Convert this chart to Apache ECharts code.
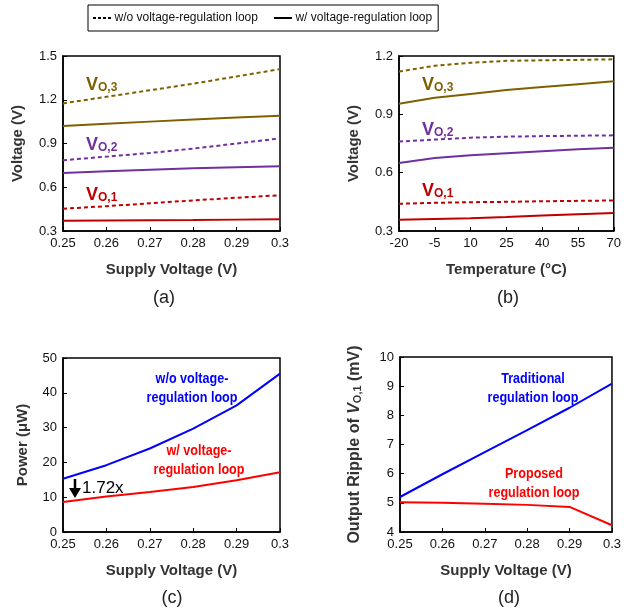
<!DOCTYPE html>
<html>
<head>
<meta charset="utf-8">
<script src="https://cdn.jsdelivr.net/npm/echarts@6/dist/echarts.min.js"></script>
<style>
  html, body { margin: 0; padding: 0; background: #fff; }
  #chart { width: 624px; height: 616px; }
</style>
</head>
<body>
<div id="chart"></div>
<script>
// x values
let supplyV = [0.25, 0.26, 0.27, 0.28, 0.29, 0.30];
let tempC = ['-20', '-5', '10', '25', '40', '55', '70'];

// (a) output voltages vs supply voltage
let aVo3Open = [1.175, 1.22, 1.265, 1.31, 1.36, 1.41];
let aVo3Reg = [1.02, 1.035, 1.05, 1.065, 1.078, 1.09];
let aVo2Open = [0.785, 0.81, 0.835, 0.865, 0.90, 0.935];
let aVo2Reg = [0.698, 0.71, 0.72, 0.73, 0.737, 0.744];
let aVo1Open = [0.453, 0.47, 0.49, 0.51, 0.528, 0.545];
let aVo1Reg = [0.37, 0.372, 0.373, 0.375, 0.378, 0.38];

// (b) output voltages vs temperature
let bVo3Open = [1.12, 1.15, 1.165, 1.175, 1.178, 1.18, 1.183];
let bVo3Reg = [0.955, 0.985, 1.005, 1.025, 1.04, 1.055, 1.07];
let bVo2Open = [0.76, 0.77, 0.78, 0.785, 0.788, 0.79, 0.792];
let bVo2Reg = [0.65, 0.675, 0.69, 0.70, 0.71, 0.72, 0.728];
let bVo1Open = [0.44, 0.445, 0.448, 0.45, 0.453, 0.455, 0.457];
let bVo1Reg = [0.358, 0.362, 0.366, 0.372, 0.38, 0.386, 0.392];

// (c) power
let cPowerOpen = [15.3, 19.2, 24.0, 29.7, 36.4, 45.5];
let cPowerReg = [8.6, 10.2, 11.5, 12.9, 14.9, 17.2];

// (d) ripple of VO,1
let dRippleTrad = [5.2, 5.98, 6.74, 7.49, 8.26, 9.09];
let dRippleProp = [5.02, 5.0, 4.97, 4.93, 4.86, 4.23];

let FONT = '"Liberation Sans", Arial, sans-serif';
let C3 = '#7F6000', C2 = '#7030A0', C1 = '#C00000';
let BLUE = '#0000FF', RED = '#FF0000';
let DASH = [4, 3];

function pairs(xs, ys) {
    return xs.map((x, i) => [x, ys[i]]);
}

let nameStyle = { fontFamily: FONT, fontWeight: 'bold', fontSize: 15, color: '#333' };
let tickStyle = { fontFamily: FONT, fontSize: 13, color: '#111', margin: 6 };

function xValueAxis(idx) {
    return {
        type: 'value', gridIndex: idx, min: 0.25, max: 0.30, interval: 0.01,
        name: 'Supply Voltage (V)', nameLocation: 'middle', nameGap: 31,
        nameTextStyle: nameStyle,
        axisLine: { lineStyle: { color: '#000', width: 1.5 } },
        axisTick: { inside: true, length: 4, lineStyle: { color: '#000' } },
        axisLabel: tickStyle,
        splitLine: { show: false }
    };
}

function yAxis(idx, min, max, interval, name, fmt, gap, size) {
    return {
        type: 'value', gridIndex: idx, min: min, max: max, interval: interval,
        name: name, nameLocation: 'middle', nameGap: gap,
        nameTextStyle: Object.assign({}, nameStyle, {
            fontSize: size,
            rich: {
                i: { fontFamily: FONT, fontWeight: 'bold', fontStyle: 'italic', fontSize: size, color: '#333' },
                s: { fontFamily: FONT, fontWeight: 'bold', fontSize: 11, color: '#333', padding: [6, 0, 0, 0] }
            }
        }),
        axisLine: { show: true, lineStyle: { color: '#000', width: 1.5 } },
        axisTick: { show: true, inside: true, length: 4, lineStyle: { color: '#000' } },
        axisLabel: Object.assign({ formatter: fmt }, tickStyle),
        splitLine: { show: false }
    };
}

function line(name, xi, data, color, dashed) {
    return {
        type: 'line', name: name, xAxisIndex: xi, yAxisIndex: xi,
        data: data, symbol: 'none', silent: true,
        lineStyle: { color: color, width: 2, type: dashed ? DASH : 'solid' },
        itemStyle: { color: color }
    };
}

function voLabel(x, y, sub, color) {
    return {
        type: 'text', left: x, top: y,
        style: {
            text: '{v|V}{s|O,' + sub + '}',
            rich: {
                v: { fontFamily: FONT, fontWeight: 'bold', fontSize: 18, fill: color, verticalAlign: 'bottom', lineHeight: 20 },
                s: { fontFamily: FONT, fontWeight: 'bold', fontSize: 12, fill: color, verticalAlign: 'bottom', lineHeight: 12 }
            }
        }
    };
}

// bold annotation, squeezed a bit to match the narrow face of the original
function note(x, y, txt, color) {
    return {
        type: 'text', x: x, y: y, scaleX: 0.84,
        style: {
            text: txt, fill: color, font: 'bold 15px ' + FONT,
            align: 'center', verticalAlign: 'middle', lineHeight: 19
        }
    };
}

function caption(x, y, txt) {
    return {
        type: 'text', x: x, y: y,
        style: { text: txt, fill: '#222', font: '18px ' + FONT, align: 'center', verticalAlign: 'middle' }
    };
}

let grids = [
    { left: 63, top: 56, width: 217, height: 175 },
    { left: 399, top: 56, width: 217, height: 175 },
    { left: 63, top: 358, width: 217, height: 174 },
    { left: 400, top: 357, width: 216, height: 175 }
].map(g => Object.assign(g, { show: true, borderColor: '#000', borderWidth: 1.5, containLabel: false }));

let fmt1 = v => v.toFixed(1);

let option = {
    animation: false,
    backgroundColor: '#fff',
    legend: {
        left: 88, top: 5,
        data: [
            { name: 'w/o voltage-regulation loop', icon: 'path://M0,0h3v2h-3zM5,0h3v2h-3zM10,0h3v2h-3zM15,0h3v2h-3z' },
            { name: 'w/ voltage-regulation loop', icon: 'path://M0,0h18v2h-18z' }
        ],
        borderColor: '#000', borderWidth: 1, padding: [7, 6, 7, 5],
        itemGap: 16, itemWidth: 19, itemHeight: 2,
        textStyle: { fontFamily: FONT, fontSize: 12, color: '#111', padding: [0, 0, 0, -2] }
    },
    grid: grids,
    xAxis: [
        xValueAxis(0),
        {
            type: 'category', gridIndex: 1, data: tempC, boundaryGap: false,
            name: 'Temperature (°C)', nameLocation: 'middle', nameGap: 31,
            nameTextStyle: nameStyle,
            axisLine: { lineStyle: { color: '#000', width: 1.5 } },
            axisTick: { inside: true, length: 4, lineStyle: { color: '#000' } },
            axisLabel: tickStyle,
            splitLine: { show: false }
        },
        xValueAxis(2),
        xValueAxis(3)
    ],
    yAxis: [
        yAxis(0, 0.3, 1.5, 0.3, 'Voltage (V)', fmt1, 38, 15),
        yAxis(1, 0.3, 1.2, 0.3, 'Voltage (V)', fmt1, 38, 15),
        yAxis(2, 0, 50, 10, 'Power (μW)', null, 33, 15),
        yAxis(3, 4, 10, 1, 'Output Ripple of {i|V}{s|O,1} (mV)', null, 37, 16)
    ],
    series: [
        line('w/o voltage-regulation loop', 0, [], '#000', true),
        line('w/ voltage-regulation loop', 0, [], '#000', false),
        line('a3o', 0, pairs(supplyV, aVo3Open), C3, true),
        line('a3r', 0, pairs(supplyV, aVo3Reg), C3, false),
        line('a2o', 0, pairs(supplyV, aVo2Open), C2, true),
        line('a2r', 0, pairs(supplyV, aVo2Reg), C2, false),
        line('a1o', 0, pairs(supplyV, aVo1Open), C1, true),
        line('a1r', 0, pairs(supplyV, aVo1Reg), C1, false),
        line('b3o', 1, bVo3Open, C3, true),
        line('b3r', 1, bVo3Reg, C3, false),
        line('b2o', 1, bVo2Open, C2, true),
        line('b2r', 1, bVo2Reg, C2, false),
        line('b1o', 1, bVo1Open, C1, true),
        line('b1r', 1, bVo1Reg, C1, false),
        line('cOpen', 2, pairs(supplyV, cPowerOpen), BLUE, false),
        line('cReg', 2, pairs(supplyV, cPowerReg), RED, false),
        line('dTrad', 3, pairs(supplyV, dRippleTrad), BLUE, false),
        line('dProp', 3, pairs(supplyV, dRippleProp), RED, false)
    ],
    graphic: [
        voLabel(86, 76, 3, C3),
        voLabel(86, 136, 2, C2),
        voLabel(86, 186, 1, C1),
        voLabel(422, 76, 3, C3),
        voLabel(422, 121, 2, C2),
        voLabel(422, 182, 1, C1),
        note(192, 388, 'w/o voltage-\nregulation loop', BLUE),
        note(199, 460, 'w/ voltage-\nregulation loop', RED),
        note(533, 388, 'Traditional\nregulation loop', BLUE),
        note(534, 483, 'Proposed\nregulation loop', RED),
        {
            type: 'line', shape: { x1: 75, y1: 479, x2: 75, y2: 490 },
            style: { stroke: '#000', lineWidth: 2.5 }
        },
        {
            type: 'polygon', shape: { points: [[69, 488], [81, 488], [75, 498]] },
            style: { fill: '#000' }
        },
        {
            type: 'text', x: 82, y: 488,
            style: { text: '1.72x', fill: '#000', font: '17px ' + FONT, verticalAlign: 'middle' }
        },
        caption(164, 298, '(a)'),
        caption(508, 298, '(b)'),
        caption(172, 598, '(c)'),
        caption(509, 598, '(d)')
    ]
};

let myChart = echarts.init(document.getElementById('chart'));
myChart.setOption(option);
</script>
</body>
</html>
